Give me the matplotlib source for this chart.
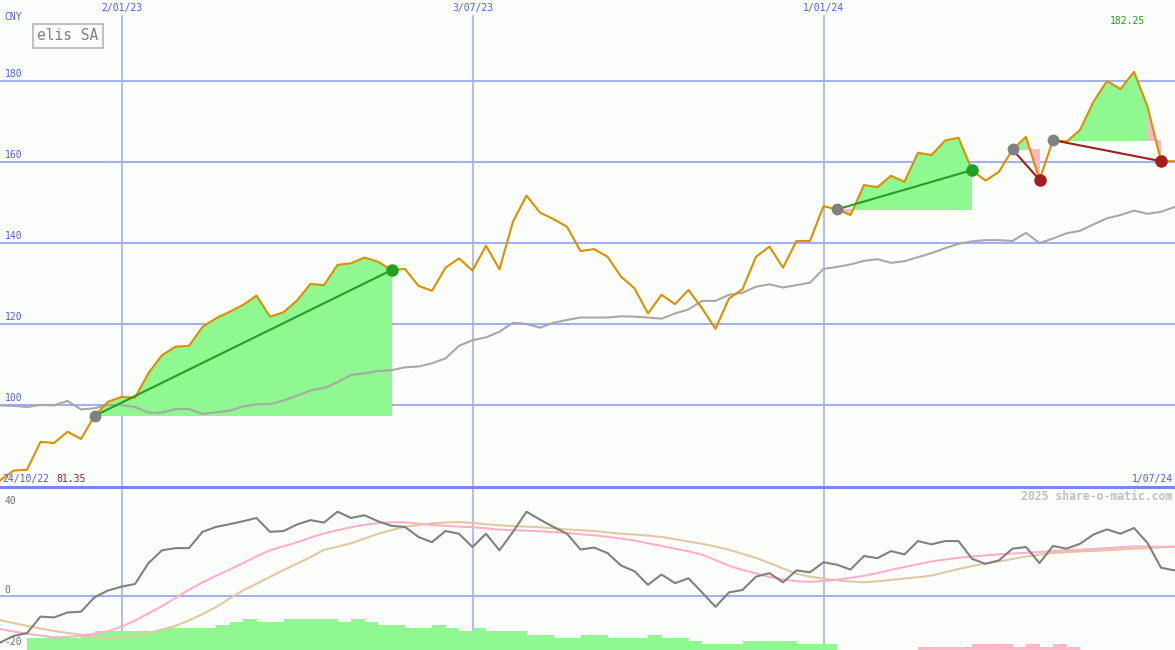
import matplotlib
matplotlib.use("Agg")
import matplotlib.pyplot as plt
import matplotlib.transforms as mtransforms

# weekly closes, 24/10/22 .. 1/07/24
price = [81.35, 83.8, 84.0, 90.9, 90.6, 93.4, 91.6, 97.3, 100.8, 102.0,
         101.8, 107.9, 112.3, 114.4, 114.6, 119.3, 121.4, 123.0, 124.7, 127.0,
         121.8, 122.9, 125.8, 129.9, 129.6, 134.6, 135.0, 136.4, 135.4, 133.3,
         133.6, 129.4, 128.2, 133.9, 136.2, 133.2, 139.3, 133.5, 145.3, 151.7,
         147.5, 145.9, 144.0, 138.0, 138.5, 136.6, 131.7, 128.8, 122.6, 127.2,
         124.9, 128.4, 123.9, 118.8, 126.3, 128.6, 136.6, 139.1, 133.9, 140.5,
         140.5, 149.1, 148.3, 146.9, 154.3, 153.8, 156.6, 155.1, 162.3, 161.7,
         165.3, 166.0, 158.0, 155.4, 157.6, 163.1, 166.2, 155.6, 165.4, 165.0,
         167.9, 174.9, 180.0, 178.0, 182.25, 173.7, 160.2, 160.2]

index_line = [99.9, 99.8, 99.5, 100.0, 99.9, 101.0, 98.9, 99.2, 100.0, 100.0,
              99.5, 98.1, 98.1, 99.0, 99.0, 97.8, 98.2, 98.6, 99.6, 100.2,
              100.2, 101.1, 102.3, 103.6, 104.2, 105.6, 107.4, 107.8, 108.4, 108.6,
              109.3, 109.5, 110.3, 111.5, 114.6, 116.0, 116.7, 118.1, 120.3, 120.0,
              119.1, 120.3, 121.0, 121.6, 121.6, 121.6, 121.9, 121.8, 121.6, 121.3,
              122.6, 123.6, 125.7, 125.7, 127.2, 127.7, 129.2, 129.8, 129.0, 129.6,
              130.2, 133.6, 134.1, 134.7, 135.6, 136.0, 135.1, 135.5, 136.5, 137.5,
              138.7, 139.8, 140.4, 140.7, 140.7, 140.5, 142.5, 140.0, 141.1, 142.4,
              143.0, 144.6, 146.1, 146.9, 148.0, 147.2, 147.7, 148.9]

osc = [-17.3, -14.8, -13.8, -7.7, -8.0, -6.2, -5.9, -0.6, 1.9, 3.3,
       4.3, 12.0, 16.7, 17.5, 17.5, 23.5, 25.3, 26.3, 27.4, 28.6,
       23.5, 23.8, 26.2, 27.8, 26.9, 30.9, 28.6, 29.6, 27.4, 25.7,
       25.3, 21.6, 19.7, 23.8, 22.8, 17.9, 22.8, 16.7, 23.5, 30.9,
       28.0, 25.3, 22.8, 17.0, 17.7, 15.7, 11.1, 9.0, 4.0, 7.8,
       4.6, 6.4, 1.2, -4.1, 1.2, 2.1, 7.0, 8.3, 4.9, 9.3,
       8.6, 12.3, 11.4, 9.6, 14.6, 13.8, 16.4, 15.2, 20.1, 18.9,
       20.1, 20.1, 13.6, 11.7, 13.0, 17.3, 17.9, 12.0, 18.3, 17.3,
       19.1, 22.5, 24.4, 22.8, 24.9, 19.4, 10.3, 9.3]

osc_fast = [-12.3, -13.2, -14.0, -14.7, -15.4, -15.2, -14.8, -14.0, -13.1, -11.4,
            -9.2, -6.5, -3.9, -0.8, 2.2, 4.9, 7.3, 9.6, 12.0, 14.5,
            16.7, 18.2, 19.6, 21.4, 22.9, 24.1, 25.2, 26.1, 26.7, 27.0,
            27.0, 26.5, 26.0, 25.7, 25.4, 25.2, 24.8, 24.3, 24.1, 23.9,
            23.7, 23.4, 23.1, 22.6, 22.2, 21.7, 21.0, 20.3, 19.3, 18.3,
            17.3, 16.3, 15.1, 13.1, 11.0, 9.5, 8.2, 6.9, 6.0, 5.3,
            5.1, 5.4, 5.9, 6.6, 7.3, 8.3, 9.5, 10.6, 11.6, 12.6,
            13.3, 13.9, 14.4, 14.8, 15.2, 15.5, 15.8, 16.1, 16.4, 16.7,
            16.9, 17.2, 17.5, 17.8, 18.1, 18.1, 18.0, 18.0]

osc_slow = [-9.0, -10.1, -11.1, -12.1, -13.0, -13.7, -14.4, -15.1, -15.7, -15.2,
            -14.7, -13.7, -12.5, -11.1, -9.1, -6.8, -4.2, -1.1, 1.9, 4.4,
            6.9, 9.4, 11.8, 14.2, 16.9, 18.0, 19.3, 21.0, 22.8, 24.1,
            25.4, 26.0, 26.6, 26.9, 27.1, 26.8, 26.3, 25.9, 25.6, 25.4,
            25.2, 24.8, 24.4, 24.1, 23.8, 23.3, 22.8, 22.5, 22.1, 21.6,
            20.8, 19.9, 19.1, 18.1, 16.9, 15.4, 13.9, 12.0, 10.0, 8.1,
            7.0, 6.2, 5.7, 5.2, 4.9, 5.3, 5.8, 6.3, 6.8, 7.4,
            8.6, 9.8, 10.9, 11.9, 12.6, 13.5, 14.4, 15.1, 15.7, 16.0,
            16.3, 16.5, 16.7, 17.0, 17.3, 17.5, 17.8, 18.0]

hist = [0, 0, 4.5, 4.5, 4.5, 4.5, 5.5, 7.0, 7.0, 7.0,
        7.0, 7.0, 8.0, 8.0, 8.0, 8.0, 9.2, 10.2, 11.4, 10.2,
        10.2, 11.4, 11.4, 11.4, 11.4, 10.2, 11.4, 10.2, 9.2, 9.2,
        8.2, 8.2, 9.2, 8.2, 7.0, 8.2, 7.0, 7.0, 7.0, 5.5,
        5.5, 4.5, 4.5, 5.5, 5.5, 4.5, 4.5, 4.5, 5.5, 4.5,
        4.5, 3.3, 2.2, 2.2, 2.2, 3.3, 3.3, 3.3, 3.3, 2.2,
        2.2, 2.2, 0, 0, 0, 0, 0, 0, -1.0, -1.0,
        -1.0, -1.0, -2.2, -2.2, -2.2, -1.0, -2.2, -1.0, -2.2, -1.0,
        0, 0, 0, 0, 0, 0, 0, 0]

trade_entry = [7, 62, 75, 78]
trade_exit = [29, 72, 77, 86]

date_ticks = [9, 35, 61]
date_labels = ["2/01/23", "3/07/23", "1/01/24"]
price_grid = [100, 120, 140, 160, 180]

BG = "#fcfefc"
GRID = "#a4b0f4"
BLUE_TXT = "#4a5cf0"
GREEN_FILL = "#90f890"
PINK_FILL = "#ffb6c8"
WIN = "#20a020"
LOSS = "#a41c1c"
MONO = "DejaVu Sans Mono"

fig = plt.figure(figsize=(11.75, 6.5), dpi=100, facecolor=BG)
xmax = 1175 / 13.5
ax = fig.add_axes([0, 163 / 650, 1, 487 / 650])
axb = fig.add_axes([0, 0, 1, 163 / 650])
for a in (ax, axb):
    a.set_xlim(0, xmax)
    a.axis("off")
ax.set_ylim(79.75, 200)
axb.set_ylim(-20, 40)

# grid
tr = mtransforms.blended_transform_factory(ax.transAxes, ax.transData)
trx = mtransforms.blended_transform_factory(ax.transData, ax.transAxes)
for v in price_grid:
    ax.axhline(v, color=GRID, lw=1.5, zorder=1)
    ax.text(0.004, v + 0.6, str(v), transform=tr, color=BLUE_TXT,
            fontsize=7, family=MONO, va="bottom", ha="left")
for x, lab in zip(date_ticks, date_labels):
    ax.axvline(x, ymax=0.967, color=GRID, lw=1.2, zorder=1)
    axb.axvline(x, color=GRID, lw=1.2, zorder=1)
    ax.text(x, 1 - 8 / 487, lab, transform=trx, color=BLUE_TXT, fontsize=7,
            family=MONO, ha="center", va="center")
axb.axhline(0, color=GRID, lw=1.5, zorder=1)
axb.axhline(40, color="#7884f0", lw=2.2, zorder=5, clip_on=False)

# trade fills, one quad per week, coloured by where the week closes
for e, x in zip(trade_entry, trade_exit):
    base = price[e]
    for i in range(e, x):
        col = GREEN_FILL if price[i + 1] >= base else PINK_FILL
        ax.fill([i, i + 1, i + 1, i], [price[i], price[i + 1], base, base],
                color=col, lw=0, antialiased=False, zorder=2)

n = len(price)
xs = list(range(n))
ax.plot(xs, index_line, color="#a8a8a8", lw=1.5, zorder=3)
ax.plot(xs, price, color="#dc9000", lw=1.5, zorder=4)

for e, x in zip(trade_entry, trade_exit):
    col = WIN if price[x] >= price[e] else LOSS
    ax.plot([e, x], [price[e], price[x]], color=col, lw=1.5, zorder=5)
    ax.plot(e, price[e], "o", color="#808080", ms=8.5, mec="none", zorder=6)
    ax.plot(x, price[x], "o", color=col, ms=9, mec="none", zorder=6)

# labels
ax.text(0.004, 1 - 17 / 487, "CNY", transform=ax.transAxes, color=BLUE_TXT,
        fontsize=7, family=MONO, va="center")
fig.text(68 / 1175, 1 - 36 / 650, "elis SA", color="#808080", fontsize=10.5,
         family=MONO, ha="center", va="center",
         bbox=dict(boxstyle="square,pad=0.3", fc=BG, ec="#c0c0c0", lw=1.5))
fig.text(1127 / 1175, 1 - 21 / 650, "%.2f" % max(price), color=WIN, fontsize=7,
         family=MONO, ha="center", va="center")
fig.text(2 / 1175, 1 - 479 / 650, "24/10/22", color=BLUE_TXT, fontsize=7,
         family=MONO, ha="left", va="center")
fig.text(56 / 1175, 1 - 479 / 650, "%.2f" % min(price), color=LOSS, fontsize=7,
         family=MONO, ha="left", va="center")
fig.text(1173 / 1175, 1 - 479 / 650, "1/07/24", color=BLUE_TXT, fontsize=7,
         family=MONO, ha="right", va="center")

# lower panel
for i, h in enumerate(hist):
    if h != 0:
        axb.bar(i, abs(h), bottom=-20, width=1, align="edge",
                color=GREEN_FILL if h > 0 else PINK_FILL, lw=0,
                antialiased=False, zorder=2)
axb.plot(xs, osc_slow, color="#e0c8a0", lw=1.5, zorder=3)
axb.plot(xs, osc_fast, color="#ffb0c8", lw=1.5, zorder=3)
axb.plot(xs, osc, color="#808080", lw=1.5, zorder=4)

trb = mtransforms.blended_transform_factory(axb.transAxes, axb.transData)
for y, lab in [(35.0, "40"), (2.2, "0"), (-17.2, "-20")]:
    axb.text(0.004, y, lab, transform=trb, color="#707070", fontsize=7,
             family=MONO, va="center")
fig.text(1172 / 1175, 1 - 496 / 650, "2025 share-o-matic.com", color="#c0c0c0",
         fontsize=8.3, family=MONO, weight="bold", ha="right", va="center")

fig.savefig("out.png", dpi=100, facecolor=BG)
